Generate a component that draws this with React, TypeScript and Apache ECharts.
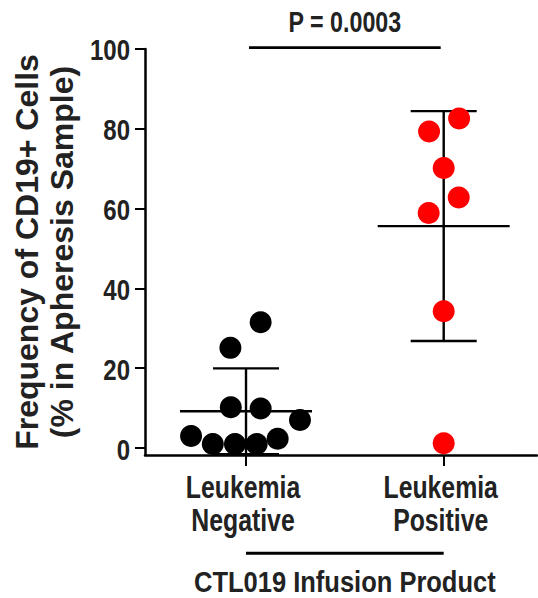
import React, { useEffect, useRef } from 'react';
import * as echarts from 'echarts';

// ---- data ----
const categories = ['Leukemia\nNegative', 'Leukemia\nPositive'];
const categoryPositions = [1, 2];
const yTicks = [0, 20, 40, 60, 80, 100];
const negativeValues = [31.5, 25.1, 10.2, 9.9, 3.0, 1.0, 1.0, 1.0, 2.3, 7.0];
const negativeOffsets = [0.074, -0.079, -0.077, 0.074, -0.278, -0.168, -0.056, 0.054, 0.16, 0.273];
const positiveValues = [82.6, 79.3, 70.2, 62.8, 58.9, 34.3, 1.2];
const positiveOffsets = [0.078, -0.074, 0, 0.076, -0.076, 0, 0];
const pLabel = 'P = 0.0003';
const groupTitle = 'CTL019 Infusion Product';
const yTitle = 'Frequency of CD19+ Cells\n(% in Apheresis Sample)';

const FONT = "'Liberation Sans', Arial, sans-serif";
const TEXT = '#222';
const Y_MIN = -1.75;

function meanSd(v: number[]) {
  const m = v.reduce((a, b) => a + b, 0) / v.length;
  const s = Math.sqrt(v.reduce((a, b) => a + (b - m) * (b - m), 0) / (v.length - 1));
  return [m, s];
}

function narrowText(text: string, x: number, y: number, size: number, scaleX: number, align: string, vAlign: string, lineHeight?: number) {
  return {
    type: 'text',
    x,
    y,
    scaleX,
    style: {
      text,
      x: 0,
      y: 0,
      fontFamily: FONT,
      fontWeight: 'bold',
      fontSize: size,
      lineHeight: lineHeight ?? size * 1.15,
      fill: TEXT,
      align,
      verticalAlign: vAlign,
    },
  };
}

export default function App() {
  const ref = useRef<HTMLDivElement>(null);
  useEffect(() => {
    if (!ref.current) return;
    const chart = echarts.init(ref.current, null, { renderer: 'svg' });
    const [nm, ns] = meanSd(negativeValues);
    const [pm, ps] = meanSd(positiveValues);
    chart.setOption({
      animation: false,
      grid: { left: 145, right: 1, top: 49, bottom: 143, containLabel: false, outerBoundsMode: 'none' },
      xAxis: {
        type: 'value',
        min: 0.489,
        max: 2.472,
        splitLine: { show: false },
        axisLine: { show: true, onZero: false, lineStyle: { color: '#000', width: 2.5 } },
        axisTick: { show: true, customValues: categoryPositions, length: 11, lineStyle: { color: '#000', width: 2 } },
        axisLabel: { show: false },
      },
      yAxis: {
        type: 'value',
        min: Y_MIN,
        max: 100,
        splitLine: { show: false },
        axisLine: { show: true, onZero: false, lineStyle: { color: '#000', width: 2.5 } },
        axisTick: { show: true, customValues: yTicks, length: 10, lineStyle: { color: '#000', width: 2 } },
        axisLabel: { show: false },
        name: yTitle,
        nameLocation: 'middle',
        nameRotate: 90,
        nameGap: 66,
        nameTextStyle: { fontFamily: FONT, fontWeight: 'bold', fontSize: 32, lineHeight: 35, color: TEXT },
      },
      series: [
        {
          type: 'custom',
          z: 1,
          data: [
            [categoryPositions[0], nm, ns],
            [categoryPositions[1], pm, ps],
          ],
          renderItem: (params: any, api: any) => {
            const x = api.value(0), m = api.value(1), s = api.value(2);
            const c = api.coord([x, m]);
            const t = api.coord([x, m + s]);
            const b = api.coord([x, Math.max(m - s, Y_MIN)]);
            const st = { stroke: '#000', lineWidth: 2.4 };
            return {
              type: 'group',
              children: [
                { type: 'line', shape: { x1: c[0], y1: t[1], x2: c[0], y2: b[1] }, style: st },
                { type: 'line', shape: { x1: c[0] - 66, y1: c[1], x2: c[0] + 66, y2: c[1] }, style: st },
                { type: 'line', shape: { x1: c[0] - 33, y1: t[1], x2: c[0] + 33, y2: t[1] }, style: st },
                { type: 'line', shape: { x1: c[0] - 33, y1: b[1], x2: c[0] + 33, y2: b[1] }, style: st },
              ],
            };
          },
        },
        {
          type: 'scatter',
          z: 3,
          symbol: 'circle',
          symbolSize: 22,
          itemStyle: { color: '#000', opacity: 1 },
          data: negativeValues.map((v, i) => [categoryPositions[0] + negativeOffsets[i], v]),
        },
        {
          type: 'scatter',
          z: 3,
          symbol: 'circle',
          symbolSize: 22,
          itemStyle: { color: '#ff0000', opacity: 1 },
          data: positiveValues.map((v, i) => [categoryPositions[1] + positiveOffsets[i], v]),
        },
      ],
    });
    const xPix = categoryPositions.map((c) => chart.convertToPixel({ xAxisIndex: 0 }, c) as number);
    const [x1, x2] = xPix;
    const axisLeft = chart.convertToPixel({ xAxisIndex: 0 }, 0.489) as number;
    const axisBottom = chart.convertToPixel({ yAxisIndex: 0 }, Y_MIN) as number;
    const graphics: any[] = [];
    yTicks.forEach((t) => {
      const py = chart.convertToPixel({ yAxisIndex: 0 }, t) as number;
      graphics.push(narrowText(String(t), axisLeft - 15, py + 1, 30, 0.8, 'right', 'middle'));
    });
    categories.forEach((c, i) => {
      graphics.push(narrowText(c, xPix[i] - 3, axisBottom + 16, 31, 0.8, 'center', 'top', 33));
    });
    graphics.push(
      { type: 'line', shape: { x1: x1 + 3, y1: 47.7, x2: x2 - 3, y2: 47.7 }, style: { stroke: '#000', lineWidth: 2.7 } },
      narrowText(pLabel, (x1 + x2) / 2, 22, 30, 0.775, 'center', 'middle'),
      { type: 'line', shape: { x1: x1, y1: 553.3, x2: x2, y2: 553.3 }, style: { stroke: '#000', lineWidth: 3 } },
      narrowText(groupTitle, (x1 + x2) / 2, 581.7, 30, 0.85, 'center', 'middle'),
    );
    chart.setOption({ graphic: graphics });
    return () => chart.dispose();
  }, []);
  return <div ref={ref} style={{ width: 538, height: 598, position: 'absolute', left: 0, top: 0 }} />;
}
